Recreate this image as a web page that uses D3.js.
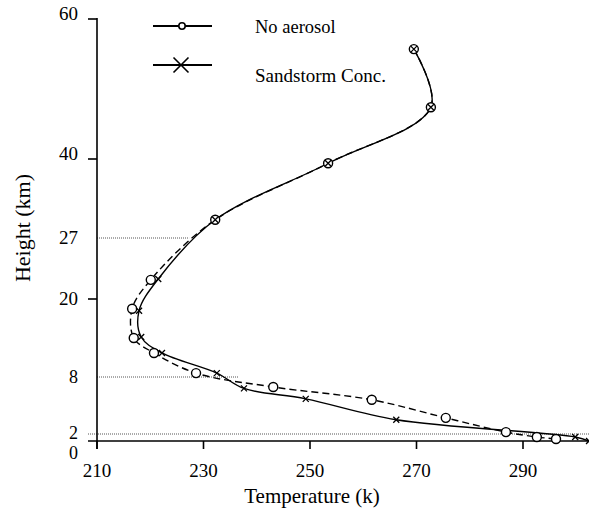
<!DOCTYPE html>
<html>
<head>
<meta charset="utf-8">
<script src="https://cdn.jsdelivr.net/npm/d3@7/dist/d3.min.js"></script>
<style>
html,body{margin:0;padding:0;background:#fff;}
svg{display:block;}
text{font-family:"Liberation Serif","Times New Roman",serif;fill:#000;}
</style>
</head>
<body>
<svg id="chart" width="589" height="510"></svg>
<script>
// ---- data ----
const seriesNames = ["No aerosol", "Sandstorm Conc."];
const noAerosolTemp   = [269.5, 272.7, 253.4, 232.2, 220.1, 216.6, 216.9, 220.7, 228.6, 243.1, 261.6, 275.5, 286.8, 292.6, 296.2];
const noAerosolHeight = [55.7, 47.4, 39.3, 30.0, 22.2, 18.5, 14.0, 11.7, 8.6, 6.95, 5.6, 3.7, 2.2, 1.14, 0.57];
const sandTemp   = [269.5, 272.7, 253.4, 232.2, 221.5, 217.9, 218.3, 222.2, 232.5, 237.6, 249.2, 266.2, 299.8, 302.4];
const sandHeight = [55.7, 47.4, 39.3, 30.0, 22.3, 18.2, 14.15, 11.7, 8.6, 6.8, 5.7, 3.5, 1.14, 0.0];
const xTicks = [210, 230, 250, 270, 290];
const yTickMarks = [60, 40, 20];
const yTickLabels = [60, 40, 27, 20, 8, 2, 0];
// reference lines: [height, temperature where line ends]
const refLineHeights = [27, 8, 2];
const refLineEnds = [227.3, 236.5, 303];

// ---- scales ----
const svg = d3.select("#chart");
const x = d3.scaleLinear().domain([210, 290]).range([97, 523]);
// irregular (piecewise) height axis as in the original figure
const y = d3.scaleLinear()
  .domain([0, 2, 8, 20, 27, 40, 60])
  .range([441, 434, 377, 299, 238, 159, 19]);

const axisLeftX = 97, axisBottomY = y(0);

// reference dotted lines
refLineHeights.forEach((h, i) => {
  const x0 = h === 2 ? 88 : axisLeftX;
  const x1 = h === 2 ? 589 : x(refLineEnds[i]);
  svg.append("line")
    .attr("x1", x0).attr("x2", x1)
    .attr("y1", y(h)).attr("y2", y(h))
    .attr("stroke", "#555").attr("stroke-width", 1)
    .attr("stroke-dasharray", "1,1");
});

// axes lines
svg.append("line").attr("x1", axisLeftX).attr("x2", axisLeftX)
  .attr("y1", y(60) - 1).attr("y2", axisBottomY + 8)
  .attr("stroke", "#000").attr("stroke-width", 1.6);
svg.append("line").attr("x1", 88).attr("x2", 589)
  .attr("y1", axisBottomY).attr("y2", axisBottomY)
  .attr("stroke", "#000").attr("stroke-width", 1.6);

// y tick marks
svg.selectAll(".ytm").data(yTickMarks).enter().append("line")
  .attr("x1", 88).attr("x2", axisLeftX)
  .attr("y1", d => y(d)).attr("y2", d => y(d))
  .attr("stroke", "#000").attr("stroke-width", 1.6);

// y tick labels
svg.selectAll(".ytl").data(yTickLabels).enter().append("text")
  .attr("x", 78)
  .attr("y", d => y(d) + (d >= 40 ? 1 : d === 0 ? 18 : d === 2 ? 5 : 6))
  .attr("text-anchor", "end")
  .attr("font-size", d => d < 10 ? 18 : 19)
  .text(d => d);

// x ticks
svg.selectAll(".xtm").data(xTicks).enter().append("line")
  .attr("x1", d => x(d)).attr("x2", d => x(d))
  .attr("y1", axisBottomY).attr("y2", axisBottomY + 8)
  .attr("stroke", "#000").attr("stroke-width", 1.6);
svg.selectAll(".xtl").data(xTicks).enter().append("text")
  .attr("x", d => x(d)).attr("y", axisBottomY + 36)
  .attr("text-anchor", "middle")
  .attr("font-size", 19)
  .text(d => d);

// axis titles
svg.append("text").attr("x", 312).attr("y", 503)
  .attr("text-anchor", "middle").attr("font-size", 21)
  .text("Temperature (k)");
svg.append("text")
  .attr("transform", "translate(30,228) rotate(-90)")
  .attr("text-anchor", "middle").attr("font-size", 22)
  .text("Height (km)");

// series
const noAer = noAerosolTemp.map((t, i) => ({t, h: noAerosolHeight[i]}));
const sand = sandTemp.map((t, i) => ({t, h: sandHeight[i]}));
const line = d3.line().x(d => x(d.t)).y(d => y(d.h))
  .curve(d3.curveCatmullRom.alpha(0.5));

svg.append("path").datum(sand).attr("d", line)
  .attr("fill", "none").attr("stroke", "#000").attr("stroke-width", 1.4);
svg.append("path").datum(noAer).attr("d", line)
  .attr("fill", "none").attr("stroke", "#000").attr("stroke-width", 1.4)
  .attr("stroke-dasharray", "7,4");

// markers
svg.selectAll(".circ").data(noAer).enter().append("circle")
  .attr("cx", d => x(d.t)).attr("cy", d => y(d.h)).attr("r", 4.5)
  .attr("fill", "#fff").attr("stroke", "#000").attr("stroke-width", 1.4);

const xs = 3;
svg.selectAll(".xm").data(sand).enter().append("path")
  .attr("d", d => {
    const cx = x(d.t), cy = y(d.h);
    return `M${cx - xs},${cy - xs}L${cx + xs},${cy + xs}M${cx - xs},${cy + xs}L${cx + xs},${cy - xs}`;
  })
  .attr("stroke", "#000").attr("stroke-width", 1.3).attr("fill", "none");

// legend
const legY = [26, 65];
const legTextY = [33, 82];
seriesNames.forEach((name, i) => {
  svg.append("line").attr("x1", 153).attr("x2", 212)
    .attr("y1", legY[i]).attr("y2", legY[i])
    .attr("stroke", "#000").attr("stroke-width", 1.8);
  if (i === 0) {
    svg.append("circle").attr("cx", 182).attr("cy", legY[i]).attr("r", 3.2)
      .attr("fill", "#fff").attr("stroke", "#000").attr("stroke-width", 1.6);
  } else {
    const s = 7.5, cx = 181, cy = legY[i];
    svg.append("path")
      .attr("d", `M${cx - s},${cy - s}L${cx + s},${cy + s}M${cx - s},${cy + s}L${cx + s},${cy - s}`)
      .attr("stroke", "#000").attr("stroke-width", 1.6);
  }
  svg.append("text").attr("x", 255).attr("y", legTextY[i])
    .attr("font-size", i === 0 ? 18.5 : 19).text(name);
});
</script>
</body>
</html>
